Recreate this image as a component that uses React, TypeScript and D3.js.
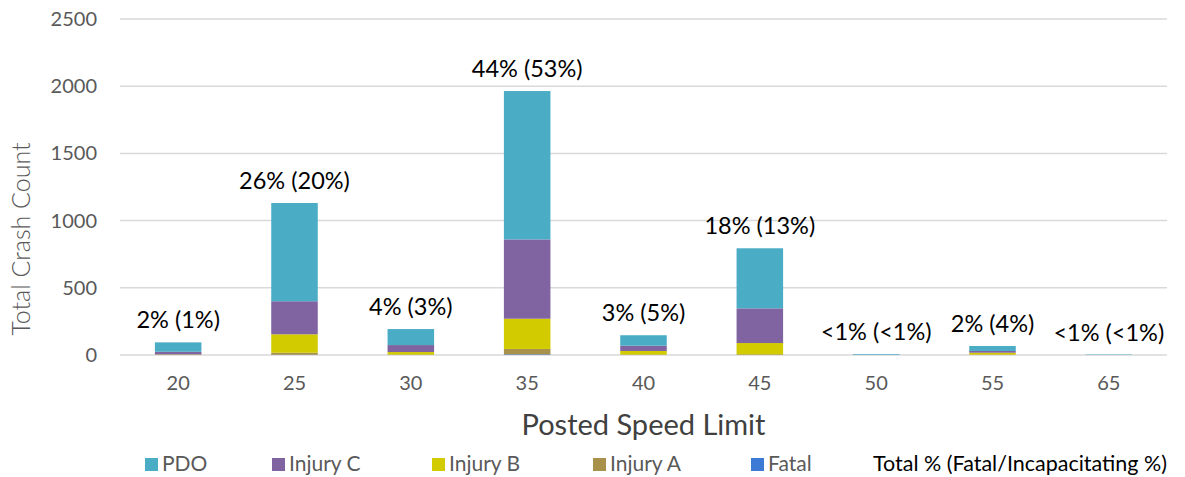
import React from "react";
import * as d3 from "d3";

const categories = ["20", "25", "30", "35", "40", "45", "50", "55", "65"];
const seriesNames = ["Fatal", "Injury A", "Injury B", "Injury C", "PDO"];
const fatal = [0, 2, 0, 5, 0, 0, 0, 0, 0];
const injuryA = [1, 15, 3, 40, 3, 5, 0, 3, 0];
const injuryB = [3, 137, 19, 225, 27, 84, 0, 14, 0];
const injuryC = [20, 246, 52, 590, 39, 258, 1, 13, 0];
const pdo = [70, 731, 119, 1104, 78, 447, 5, 37, 3];
const labels = ["2% (1%)", "26% (20%)", "4% (3%)", "44% (53%)", "3% (5%)", "18% (13%)", "<1% (<1%)", "2% (4%)", "<1% (<1%)"];
const yTicks = [0, 500, 1000, 1500, 2000, 2500];
const colors: Record<string, string> = {
  PDO: "#4BACC6",
  "Injury C": "#8064A2",
  "Injury B": "#D2CB00",
  "Injury A": "#A8914B",
  Fatal: "#3C7AD6",
};
const legendOrder = ["PDO", "Injury C", "Injury B", "Injury A", "Fatal"];

const W = 1185, H = 477;
const margin = { left: 120, right: 18, top: 19, bottom: 122 };

export default function App() {
  const rows = categories.map((c, i) => ({
    cat: c,
    Fatal: fatal[i],
    "Injury A": injuryA[i],
    "Injury B": injuryB[i],
    "Injury C": injuryC[i],
    PDO: pdo[i],
  }));
  const stack = d3.stack<any>().keys(seriesNames)(rows);
  const x = d3.scaleBand().domain(categories).range([margin.left, W - margin.right]).paddingInner(0.6).paddingOuter(0.3);
  const y = d3.scaleLinear().domain([0, 2500]).range([H - margin.bottom, margin.top]);
  const y0 = y(0);
  const font = "Lato, 'Open Sans', sans-serif";
  const legendX = [145, 272, 432, 593, 751];
  return (
    <svg width={W} height={H} style={{ position: "absolute", left: 0, top: 0, background: "#fff" }} fontFamily={font}>
      {yTicks.map((t) => (
        <g key={t}>
          <line x1={margin.left} x2={W - margin.right} y1={y(t)} y2={y(t)} stroke="#d9d9d9" strokeWidth={1.5} />
          <text x={97} y={y(t)} dy="0.35em" textAnchor="end" fontSize={20} fill="#595959">{t}</text>
        </g>
      ))}
      {stack.map((s) => (
        <g key={s.key} fill={colors[s.key]}>
          {s.map((d, i) => (
            <rect key={i} x={x(categories[i])} width={x.bandwidth()} y={y(d[1])} height={Math.max(0, y(d[0]) - y(d[1]))} />
          ))}
        </g>
      ))}
      {categories.map((c, i) => {
        const total = fatal[i] + injuryA[i] + injuryB[i] + injuryC[i] + pdo[i];
        return (
          <g key={c}>
            <text x={x(c)! + x.bandwidth() / 2} y={y(total) - 14} textAnchor="middle" fontSize={23.5} fill="#000">{labels[i]}</text>
            <text x={x(c)! + x.bandwidth() / 2} y={y0 + 35} textAnchor="middle" fontSize={20} fill="#595959">{c}</text>
          </g>
        );
      })}
      <text transform={`translate(30, ${(y(0) + y(2500)) / 2 + 52}) rotate(-90)`} textAnchor="middle" fontSize={25} fontWeight={300} fill="#595959">Total Crash Count</text>
      <text x={(margin.left + W - margin.right) / 2} y={435} textAnchor="middle" fontSize={29} fill="#404040">Posted Speed Limit</text>
      {legendOrder.map((k, i) => (
        <g key={k}>
          <rect x={legendX[i]} y={458} width={13} height={13} fill={colors[k]} />
          <text x={legendX[i] + 17} y={471} fontSize={21} fill="#595959">{k}</text>
        </g>
      ))}
      <text x={873} y={471} fontSize={21.5} fill="#000">Total % (Fatal/Incapacitating %)</text>
    </svg>
  );
}
